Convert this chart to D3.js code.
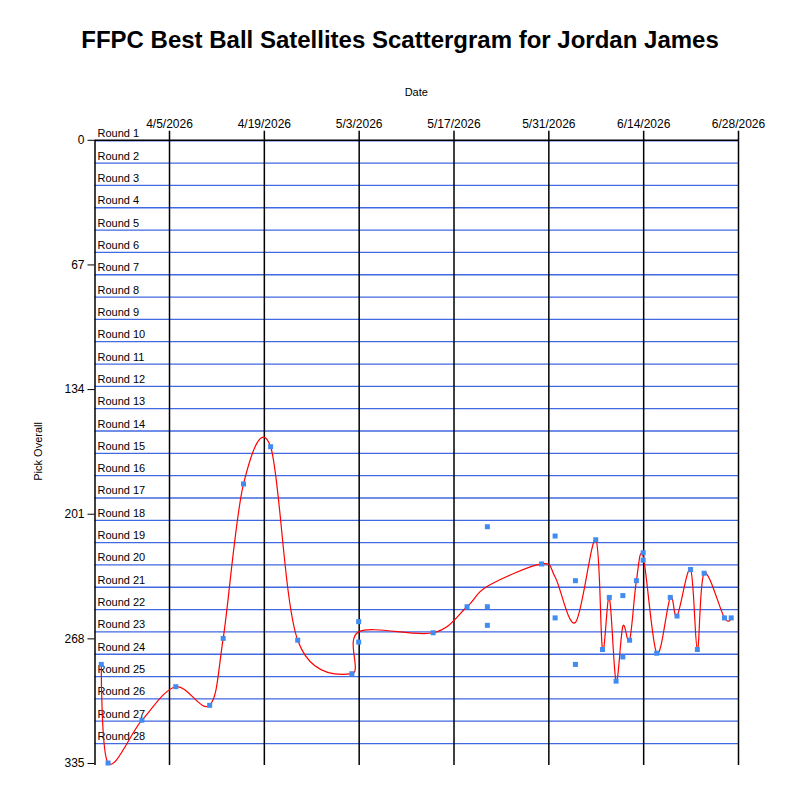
<!DOCTYPE html>
<html>
<head>
<meta charset="utf-8">
<script src="https://cdn.jsdelivr.net/npm/d3@7"></script>
<style>
  body { margin: 0; background: white; }
  svg { font-family: "Liberation Sans", Arial, sans-serif; }
</style>
</head>
<body>
<svg id="scatter_svg" width="800" height="800"></svg>
<script>
// picks (one entry per pick, dates repeat when several picks on the same day)
const pickDates = [
    '3/26/2026', '3/27/2026', '4/1/2026', '4/6/2026', '4/11/2026', '4/13/2026',
    '4/16/2026', '4/20/2026', '4/24/2026', '5/2/2026', '5/3/2026', '5/3/2026',
    '5/14/2026', '5/19/2026', '5/22/2026', '5/22/2026', '5/22/2026', '5/30/2026',
    '6/1/2026', '6/1/2026', '6/4/2026', '6/4/2026', '6/7/2026', '6/8/2026',
    '6/9/2026', '6/10/2026', '6/11/2026', '6/11/2026', '6/12/2026', '6/13/2026',
    '6/14/2026', '6/14/2026', '6/16/2026', '6/18/2026', '6/19/2026', '6/21/2026',
    '6/22/2026', '6/23/2026', '6/26/2026', '6/27/2026'
];
const pickOverall = [
    282, 335, 312, 294, 304, 268,
    185, 165, 269, 287, 259, 270,
    265, 251, 208, 251, 261, 228,
    213, 257, 237, 282, 215, 274,
    246, 291, 245, 278, 269, 237,
    222, 226, 276, 246, 256, 231,
    274, 233, 257, 257
];

const dateTicks = ['4/5/2026', '4/19/2026', '5/3/2026', '5/17/2026', '5/31/2026', '6/14/2026', '6/28/2026'];
const pickTicks = [0, 67, 134, 201, 268, 335];
const dateMin = '3/25/2026';
const dateMax = '6/28/2026';
const picksPerRound = 12;
const roundCount = 28;

function createScatterPlot() {
    const svg = d3.select('#scatter_svg');
    var margin = { top: 139.8, right: 62, bottom: 37, left: 94.5 };
    const width = +svg.attr('width');
    const height = +svg.attr('height');
    const innerWidth = width - margin.left - margin.right;
    const innerHeight = height - margin.top - margin.bottom;

    const parseDate = d3.utcParse('%m/%d/%Y');
    const picks = pickDates.map((d, i) => ({ date: parseDate(d), pick: pickOverall[i] }));

    // average pick per draft date -> red spline
    const avgByDate = d3.rollups(picks, v => d3.mean(v, d => d.pick), d => +d.date)
        .map(([t, p]) => ({ date: new Date(t), pick: p }))
        .sort((a, b) => a.date - b.date);

    const xScale = d3.scaleUtc()
            .domain([parseDate(dateMin), parseDate(dateMax)]) // data space
            .range([0, innerWidth]); // pixel space
    const yScale = d3.scaleLinear()
            .domain([0, 335]) // data space
            .range([0, innerHeight]); // pixel space

    svg.append('text')
             .attr('x', 400)
             .attr('y', 48)
             .style('text-anchor', 'middle')
             .style('font-size', '24px')
             .style('font-weight', 'bold')
             .text('FFPC Best Ball Satellites Scattergram for Jordan James');

    const g = svg.append('g')
            .attr('transform', `translate(${margin.left},${margin.top})`);

    // round bands
    const rounds = d3.range(roundCount);
    g.selectAll('.roundLine')
             .data(rounds)
             .enter()
             .append('line')
             .attr('x1', 0)
             .attr('x2', innerWidth)
             .attr('y1', d => yScale(d * picksPerRound) + 1)
             .attr('y2', d => yScale(d * picksPerRound) + 1)
             .style('stroke', '#4169e1')
             .style('stroke-width', 1.3);
    g.selectAll('.roundLabel')
             .data(rounds)
             .enter()
             .append('text')
             .attr('x', 3)
             .attr('y', d => yScale(d * picksPerRound) - 2.5)
             .style('font-size', '11px')
             .text(d => 'Round ' + (d + 1));

    // top date axis, ticks run down through the plot
    const xAxis = g.append('g')
            .call(d3.axisTop(xScale)
                .tickValues(dateTicks.map(parseDate))
                .tickFormat(d3.utcFormat('%-m/%-d/%Y'))
                .tickSizeInner(-(innerHeight + 2))
                .tickSizeOuter(0)
                .tickPadding(12));
    xAxis.select('.domain').attr('stroke', 'black').attr('stroke-width', 1.5);
    xAxis.selectAll('.tick line').attr('stroke', 'black').attr('stroke-width', 1.5).attr('y2', -9).attr('y1', innerHeight + 2);
    xAxis.selectAll('.tick text').style('font-size', '12px').style('font-family', '"Liberation Sans", Arial, sans-serif').attr('fill', 'black');

    const yAxis = g.append('g')
            .call(d3.axisLeft(yScale)
                .tickValues(pickTicks)
                .tickSize(7)
                .tickPadding(3)
                .tickSizeOuter(0));
    yAxis.select('.domain').attr('stroke', 'black').attr('stroke-width', 1.5).attr('d', `M0.5,0V${innerHeight + 2}`);
    yAxis.selectAll('.tick line').attr('stroke', 'black');
    yAxis.selectAll('.tick text').style('font-size', '12px').style('font-family', '"Liberation Sans", Arial, sans-serif').attr('fill', 'black');

    g.append('text')
             .attr('x', innerWidth / 2)
             .attr('y', -44)
             .style('text-anchor', 'middle')
             .style('font-size', '11px')
             .text('Date');
    g.append('text')
             .attr('transform', 'rotate(-90)')
             .attr('y', 42 - margin.left)
             .attr('x', -innerHeight / 2)
             .style('text-anchor', 'middle')
             .style('font-size', '11px')
             .text('Pick Overall');

    const line = d3.line()
            .x(d => xScale(d.date))
            .y(d => yScale(d.pick))
            .curve(d3.curveCardinal.tension(0));
    g.append('path')
             .datum(avgByDate)
             .attr('d', line)
             .style('fill', 'none')
             .style('stroke', 'red')
             .style('stroke-width', 1.2);

    g.selectAll('rect.pick')
             .data(picks)
             .enter()
             .append('rect')
             .attr('class', 'pick')
             .attr('x', d => xScale(d.date) - 2.5)
             .attr('y', d => yScale(d.pick) - 2.5)
             .attr('width', 5)
             .attr('height', 5)
             .style('fill', 'rgb(65, 140, 240)');
}

createScatterPlot();
</script>
</body>
</html>
